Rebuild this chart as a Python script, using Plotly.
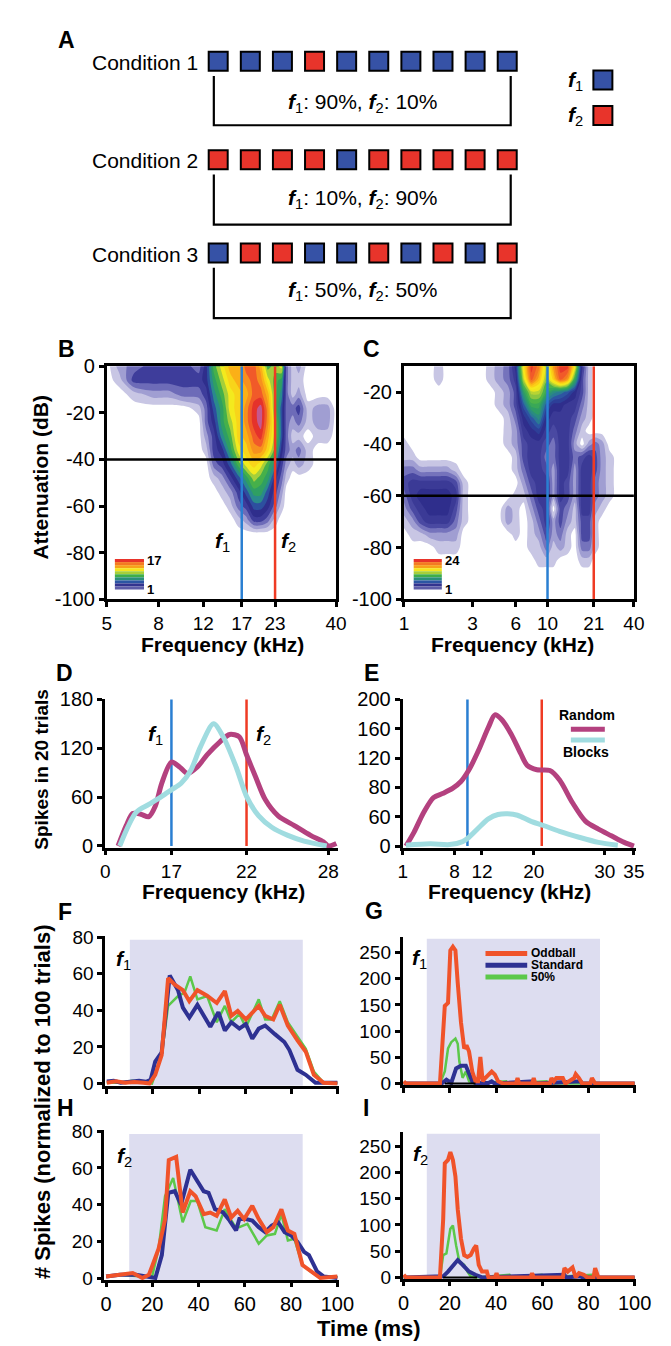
import math
import plotly.graph_objects as go

W, H = 671, 1346
FONT = "Liberation Sans, Arial, Helvetica, sans-serif"

# ======================= DATA =======================
# ---- Panel A: tone sequences ----
COND_NAMES = ["Condition 1", "Condition 2", "Condition 3"]
COND_SEQ = [
    ["f1", "f1", "f1", "f2", "f1", "f1", "f1", "f1", "f1", "f1"],
    ["f2", "f2", "f2", "f2", "f1", "f2", "f2", "f2", "f2", "f2"],
    ["f1", "f2", "f2", "f1", "f1", "f2", "f1", "f2", "f1", "f2"],
]
COND_PCT = [(90, 10), (10, 90), (50, 50)]

# ---- Panel B: frequency response area (spike count levels 0..17) ----
B_FREQ = [5, 5.6, 6.4, 7.6, 8.8, 10, 11.5, 12.3, 13.2, 14.2, 15.3, 16.5, 17.7,
          19, 20.2, 21.5, 23, 24.4, 25.5, 27, 28.5, 31, 34, 37, 40]
B_ATT = [0, -6, -12, -18, -24, -30, -36, -42, -48, -54, -60, -66, -72, -100]
B_Z = [
    [0, 2, 3, 4, 4, 4, 3, 5, 9, 11, 13, 13, 15, 15, 13, 9, 10, 11, 3, 1, 2, 0, 0, 0, 0],
    [0, 1, 4, 4, 4, 4, 4, 5, 8, 10, 12, 13, 14, 15, 14, 11, 9, 8, 3, 1, 1, 0, 0, 0, 0],
    [0, 0, 1, 2, 2, 3, 3, 4, 7, 9, 11, 12, 13, 15, 15, 13, 9, 7, 3, 1, 2, 0, 0, 0, 0],
    [0, 0, 0, 0, 0, 0, 1, 3, 6, 8, 11, 12, 14, 16, 17, 14, 9, 6, 3, 3, 4, 1, 2, 2, 0],
    [0, 0, 0, 0, 0, 0, 0, 3, 5, 8, 10, 12, 14, 16, 17, 14, 10, 6, 3, 2, 3, 1, 2, 2, 0],
    [0, 0, 0, 0, 0, 0, 0, 2, 4, 7, 9, 12, 13, 15, 16, 13, 10, 6, 3, 1, 1, 0, 1, 1, 0],
    [0, 0, 0, 0, 0, 0, 0, 1, 4, 5, 8, 11, 12, 14, 14, 12, 9, 5, 3, 2, 3, 1, 0, 0, 0],
    [0, 0, 0, 0, 0, 0, 0, 0, 3, 4, 6, 9, 11, 12, 11, 9, 7, 4, 2, 1, 2, 1, 0, 0, 0],
    [0, 0, 0, 0, 0, 0, 0, 0, 1, 2, 4, 6, 8, 10, 9, 8, 5, 3, 1, 0, 0, 0, 0, 0, 0],
    [0, 0, 0, 0, 0, 0, 0, 0, 0, 1, 2, 4, 6, 8, 8, 6, 4, 2, 0, 0, 0, 0, 0, 0, 0],
    [0, 0, 0, 0, 0, 0, 0, 0, 0, 0, 1, 3, 4, 6, 6, 5, 3, 1, 0, 0, 0, 0, 0, 0, 0],
    [0, 0, 0, 0, 0, 0, 0, 0, 0, 0, 0, 1, 2, 4, 4, 3, 1, 0, 0, 0, 0, 0, 0, 0, 0],
    [0] * 25,
    [0] * 25,
]
B_MAX = 17
B_F1, B_F2, B_LEVEL = 17, 23, -40
B_XTICKS = [5, 8, 12, 17, 23, 40]
B_YTICKS = [0, -20, -40, -60, -80, -100]

# ---- Panel C: frequency response area (levels 0..24) ----
C_FREQ = [1, 1.15, 1.3, 1.5, 1.75, 2, 2.3, 2.6, 3, 3.5, 4, 4.6, 5.3, 6, 6.8, 7.7,
          8.7, 9.8, 11, 12.3, 13.8, 15.5, 17.4, 19.5, 21.5, 24, 27, 31, 35, 40]
C_ATT = [-10, -15, -20, -25, -30, -35, -40, -45, -50, -55, -60, -65, -70, -75,
         -80, -85, -90, -100]
C_Z = [
    [0, 0, 0, 0, 1, 0, 0, 0, 0, 0, 1, 2, 3, 6, 17, 23, 21, 15, 20, 23, 23, 17, 5, 1, 0, 0, 0, 0, 0, 0],
    [0, 0, 0, 0, 1, 0, 0, 0, 0, 0, 1, 2, 3, 5, 15, 22, 19, 14, 18, 22, 20, 12, 4, 1, 0, 0, 0, 0, 0, 0],
    [0, 0, 0, 0, 0, 0, 0, 0, 0, 0, 0, 1, 2, 4, 11, 15, 15, 12, 10, 9, 8, 6, 4, 1, 0, 0, 0, 0, 0, 0],
    [0, 0, 0, 0, 0, 0, 0, 0, 0, 0, 0, 1, 2, 4, 8, 12, 12, 8, 6, 6, 5, 5, 3, 1, 0, 0, 0, 0, 0, 0],
    [0, 0, 0, 0, 0, 0, 0, 0, 0, 0, 0, 0, 1, 3, 6, 8, 10, 6, 5, 5, 5, 4, 2, 1, 0, 0, 0, 0, 0, 0],
    [0, 0, 0, 0, 0, 0, 0, 0, 0, 0, 0, 0, 1, 2, 5, 6, 7, 5, 4, 5, 5, 3, 1, 0, 0, 0, 0, 0, 0, 0],
    [1, 0, 0, 0, 0, 0, 0, 0, 0, 0, 0, 0, 1, 2, 4, 5, 5, 4, 3, 5, 5, 2, 0, 2, 3, 2, 0, 0, 0, 0],
    [1, 1, 0, 0, 0, 0, 0, 0, 0, 0, 0, 0, 0, 1, 4, 5, 5, 3, 3, 5, 5, 3, 4, 5, 4, 2, 1, 0, 0, 0],
    [3, 3, 2, 2, 2, 2, 1, 0, 0, 0, 0, 0, 0, 1, 3, 5, 5, 4, 2, 5, 5, 2, 5, 5, 4, 2, 1, 0, 0, 0],
    [4, 5, 5, 5, 5, 5, 4, 1, 0, 0, 0, 0, 0, 0, 2, 4, 5, 5, 2, 5, 4, 2, 5, 5, 3, 2, 1, 0, 0, 0],
    [3, 5, 6, 6, 6, 6, 5, 1, 0, 0, 0, 0, 0, 1, 1, 3, 5, 5, 2, 5, 4, 2, 5, 5, 3, 2, 1, 0, 0, 0],
    [2, 4, 5, 6, 6, 6, 4, 1, 0, 0, 0, 0, 2, 1, 0, 2, 4, 5, 0, 4, 3, 1, 5, 5, 2, 1, 0, 0, 0, 0],
    [1, 2, 4, 5, 5, 5, 3, 1, 0, 0, 0, 0, 2, 1, 0, 1, 3, 5, 2, 4, 2, 1, 4, 4, 1, 0, 0, 0, 0, 0],
    [0, 1, 1, 2, 2, 2, 2, 0, 0, 0, 0, 0, 0, 1, 0, 1, 2, 4, 2, 3, 1, 0, 4, 4, 1, 0, 0, 0, 0, 0],
    [0, 0, 0, 0, 1, 1, 1, 0, 0, 0, 0, 0, 0, 0, 0, 1, 1, 3, 1, 2, 1, 0, 3, 3, 1, 0, 0, 0, 0, 0],
    [0, 0, 0, 0, 0, 0, 0, 0, 0, 0, 0, 0, 0, 0, 0, 0, 1, 1, 1, 0, 0, 0, 1, 1, 0, 0, 0, 0, 0, 0],
    [0] * 30,
    [0] * 30,
]
C_MAX = 24
C_F1, C_F2, C_LEVEL = 10, 21, -60
C_XTICKS = [1, 3, 6, 10, 21, 40]
C_YTICKS = [-20, -40, -60, -80, -100]

# ---- Panel D: spikes vs frequency bin ----
D_RANDOM_X = [1.33, 2.17, 2.83, 3.67, 4.5, 5.17, 5.83, 6.83, 7.67, 8.5, 9.5, 10.5, 11.83,
              12.83, 13.83, 14.57, 15.5, 16.5, 17.83, 19.5, 21.17, 22.5, 23, 23.83]
D_RANDOM_Y = [0, 25, 40, 39, 36, 49, 77, 103, 97, 89, 97, 112, 128,
              137, 134, 112, 85, 57, 37, 25, 13, 5, 0, 3]
D_BLOCKS_X = [1.5, 3.17, 4.5, 5.83, 6.83, 7.83, 8.83, 9.83, 11.17, 12.17, 13.5, 14.57,
              15.83, 17.17, 18.83, 20.5, 22.83]
D_BLOCKS_Y = [0, 41, 51, 61, 69, 77, 93, 122, 150, 134, 97, 61, 37, 23, 13, 6, 0]
D_TICK_POS = [0, 6.83, 14.57, 23]
D_TICK_TXT = ["0", "17", "22", "28"]
D_F1_POS, D_F2_POS = 6.83, 14.57
D_YTICKS = [0, 60, 120, 180]

# ---- Panel E ----
E_RANDOM_X = [0.33, 1.17, 2.17, 3.17, 4.17, 5.17, 6, 6.83, 7.83, 8.83, 9.5, 10.17, 11.17,
              12.17, 12.83, 13.83, 15.17, 16.17, 17.5, 18.83, 20.17, 21.5, 22.83, 23.83]
E_RANDOM_Y = [0, 19, 46, 66, 72, 79, 88, 104, 131, 162, 179, 173, 153,
              126, 110, 104, 103, 90, 59, 34, 23, 14, 5, 0]
E_BLOCKS_X = [0.33, 2.83, 4.83, 6.17, 6.83, 7.83, 8.83, 9.83, 10.83, 11.83, 13.17, 14.5,
              16.17, 18.17, 20.17, 22.17]
E_BLOCKS_Y = [1, 3, 2, 6, 12, 25, 37, 43, 44, 42, 34, 28, 20, 12, 5, 1]
E_TICK_POS = [0, 5.33, 8.17, 13.5, 20.83, 23.83]
E_TICK_TXT = ["1", "8", "12", "20", "30", "35"]
E_F1_POS, E_F2_POS = 6.67, 14.33
E_YTICKS = [0, 40, 80, 120, 160, 200]
E_YTICK_TXT = ["0", "60", "80", "120", "160", "200"]

# ---- Panels F-I: PSTHs (time ms, spikes per 100 trials) ----
STIM = (10, 85)

F_STD_T = [0, 3, 6, 10, 14, 17, 19, 21, 23.8, 27.3, 30.9, 33, 35.8, 39.3, 42, 44.9, 48.4,
           51.2, 54, 57.5, 60.3, 63.1, 65.9, 68.7, 72.9, 77, 79.2, 82.7, 86.3, 90.5, 95, 100]
F_STD_V = [1.2, 1.5, 0.5, 1, 1.5, 1, 2, 12, 17, 59, 51, 41.5, 36, 43, 37, 31, 39,
           29, 33.5, 30, 32.5, 24.5, 30, 31.7, 27, 22.7, 18.3, 7.5, 4.8, 0.4, 0.4, 0.4]
F_ODD_T = [0, 4, 8, 12, 16, 18.5, 21, 23.8, 26.6, 29.5, 33, 35.8, 39.3, 43.5, 47.7, 51.2,
           54, 56.8, 60.3, 65.9, 68.7, 72.2, 75, 78.5, 82.7, 86.3, 89.8, 94, 100]
F_ODD_V = [0.4, 1.3, 0.4, 0.8, 0.5, 0, 4.8, 15.6, 57.6, 54, 51, 45, 51, 48, 44, 50.5,
           37, 39.7, 35, 42.4, 37, 35, 43, 31.7, 23.6, 17.4, 4.8, 0.4, 0]
F_50_T = [0, 6, 11, 16, 19.6, 23.8, 26.6, 30.9, 33.7, 36.2, 39.3, 43.5, 47.7, 51.2, 54,
          57.5, 60.3, 65.9, 68.7, 71.5, 75, 78.5, 82.7, 86.3, 89.8, 94, 100]
F_50_V = [0.4, 0.4, 1.5, 0.5, 0, 15.6, 42.4, 47.8, 49.6, 58.5, 46, 47.8, 33.5, 42.4, 33.5,
          38, 30.8, 46, 35, 35, 45, 33.5, 25.4, 19, 6.6, 0.4, 0.4]

H_STD_T = [0, 5.9, 12.9, 18.5, 21.3, 24.1, 26.9, 29.7, 32.4, 36.4, 38.7, 42.2, 44.3, 47.1,
           50.6, 53.4, 56.2, 57.6, 60.4, 63.2, 66, 68.8, 71.6, 74.4, 77.2, 80, 82.8, 85.6,
           87.7, 91.2, 94, 100]
H_STD_V = [0.9, 1.8, 1.8, 0.9, 0, 12.5, 46.4, 47.3, 40, 59, 54.5, 47.3, 46.4, 37.5,
           35.7, 31.3, 25.9, 32.1, 32.1, 31.3, 27.7, 25, 28.6, 30.4, 25, 23.2, 19.6, 14.3,
           12.5, 3.6, 0.9, 0]
H_ODD_T = [0, 5.9, 11.5, 15.7, 18.5, 20.1, 22.7, 25.5, 27.1, 30.3, 33.1, 36.4, 38.7, 42.2,
           45, 47.8, 51.3, 54.1, 56.9, 59.7, 63.2, 66, 69.5, 72.3, 75.8, 78.6, 81.4, 84.9,
           88.4, 92.6, 100]
H_ODD_V = [0.9, 1.8, 2.7, 0, 1.8, 7.1, 16, 32, 64.3, 66, 35.7, 47.3, 44.6, 34.8,
           35.7, 33.9, 42.9, 33, 36.6, 32.1, 39.3, 32.1, 25, 27.7, 37.5, 25.9, 24.1, 7.1,
           3.6, 0, 0.9]
H_50_T = [0, 5.9, 15.7, 19.9, 22.7, 25.5, 29, 33.1, 36.6, 39.4, 42.9, 47.8, 51.3, 55.5,
          57.6, 61.1, 66, 69.5, 73, 75.8, 78.6, 81.4, 84.9, 88.4, 92.6, 100]
H_50_V = [0.9, 1.8, 0.9, 0.9, 16, 44.6, 54.5, 30.4, 42, 42, 27.7, 25.9, 37.5, 28.6,
          27.7, 29.5, 18.75, 23.2, 24.1, 34.8, 20.5, 21.4, 7.1, 3.6, 0, 0.9]

G_ODD_T = [0, 1, 15.7, 17.8, 19.2, 20.2, 21.3, 22.4, 23.4, 24.8, 26.2, 27.2, 28.3, 29.7,
           31.1, 32.2, 33.2, 34.2, 35.3, 38.1, 39.5, 40.9, 43, 48.6, 49.3, 50, 55.6, 56.3,
           57, 63.3, 64, 65, 66.1, 67.5, 68.9, 70, 73.8, 74.5, 75.9, 77.3, 80.8, 81.5,
           82.9, 100]
G_ODD_V = [4.4, 0, 0, 148, 154, 254, 261, 254, 192, 117, 67, 73, 61, 23,
           4.4, 4.4, 51, 4.4, 10.6, 23, 17, 4.4, 0, 0, 10.6, 0, 0, 10.6,
           0, 0, 10.6, 4.4, 10.6, 10.6, 10.6, 0, 10.6, 18, 10.6, 0, 0, 10.6,
           0, 0]
G_STD_T = [0, 16.4, 18.5, 20.6, 22.7, 24.8, 26.9, 28.3, 29.7, 31.1, 36.7, 38.1, 39.5,
           56.3, 57, 76.6, 77.3, 100]
G_STD_V = [0, 0, 7.5, 1.2, 29, 34, 34, 20, 4.4, 1.2, 1.2, 4.4, 0, 4.4, 0, 4.4, 0, 0]
G_50_T = [0, 15.7, 17.8, 19.2, 20.6, 22.4, 23.4, 24.1, 25.5, 26.9, 28.3, 31.1, 44.4, 45,
          61.9, 62.6, 100]
G_50_V = [0, 0, 23, 67, 79, 86, 76, 42, 11, 23, 4.4, 0, 4.4, 0, 4.4, 0, 0]

I_ODD_T = [0, 1, 15.7, 17.1, 17.8, 19.2, 20.2, 21.3, 22.4, 23.4, 24.8, 26.2, 27.6, 29,
           30.4, 31.4, 32.5, 33.9, 36, 36.7, 39.5, 40.2, 40.9, 54.9, 55.6, 56.3, 68.9,
           69.6, 71, 73.1, 74.5, 75.9, 78, 79.4, 82.2, 82.9, 84.3, 100]
I_ODD_V = [5, 0, 0, 111, 217.5, 224, 239, 224, 192.5, 130, 74, 42.5, 39, 42.5,
           55, 61, 24, 11, 11, 0, 0, 8, 0, 0, 8, 0, 0,
           17.5, 11, 19, 0, 8, 5, 0, 0, 17.5, 0, 0]
I_STD_T = [0, 17.1, 19.2, 21.3, 23.4, 24.8, 26.2, 28.3, 31.1, 33.9, 69.6, 70.3, 76.6,
           77.3, 100]
I_STD_V = [0, 2, 11, 21, 33, 27, 21, 11, 5, 0, 5, 0, 2, 0, 0]
I_50_T = [0, 15.7, 17.1, 18.5, 20.2, 21.3, 22.7, 24.1, 26.2, 27.6, 29, 31.1, 45.8, 46.5,
          59.8, 60.5, 81.5, 82.2, 100]
I_50_V = [0, 0, 42.5, 45.6, 92.5, 98.8, 61, 30, 24, 11, 2, 0, 5, 0, 5, 0, 5, 0, 0]

G_BAR = (17.8, 31.1)
I_BAR = (17.1, 31.8)

# ======================= STYLE =======================
TONE_COLOR = {"f1": "#3652a6", "f2": "#e8342b"}
F1_LINE = "#2a7fd2"
F2_LINE = "#ef3b24"
MAGENTA = "#b4417f"
CYAN = "#a0dce0"
ODD_C = "#f0532a"
STD_C = "#2e3192"
P50_C = "#5cc84a"
SHADE = "rgb(221,221,240)"

B_COLS = ['#ffffff', '#c8c6e4', '#a09ed2', '#6d6bb8', '#3e3d9b', '#2f2e8c', '#2d4f9f',
          '#2a8a8c', '#2f9f62', '#46b04a', '#a6cf3a', '#f3ea1e', '#f8d41a', '#fbb017',
          '#f7901e', '#f15a29', '#e5322b', '#c4588f']
C_COLS = ['#ffffff', '#c8c6e4', '#a09ed2', '#7573bc', '#4a49a2', '#3b3a96', '#2f2e8c',
          '#2d3f98', '#2d55a2', '#2a7a94', '#2a8c80', '#2e9c66', '#3aa857', '#4cb34a',
          '#8cc63f', '#b8d433', '#eee61f', '#f6e81c', '#fbcf17', '#fbb817', '#f7941d',
          '#f47a22', '#f15a29', '#e83a2a', '#e0302c']
CBAR_COLS = ['#e8332a', '#f47a22', '#f7a21b', '#f5e61e', '#a6cf3a', '#3fae49',
             '#2a8f7a', '#2b55a3', '#33338f', '#5d5ca8']


def xdom(a, b):
    return [a / W, b / W]


def ydom(top, bot):
    return [1 - bot / H, 1 - top / H]


def PX(x):
    return x / W


def PY(y):
    return 1 - y / H


def axis(domain, anchor, size=20, **kw):
    d = dict(domain=domain, anchor=anchor, showgrid=False, zeroline=False,
             showline=True, linecolor="black", linewidth=2.5, ticks="outside",
             tickcolor="black", tickwidth=2.5, ticklen=5,
             tickfont=dict(family=FONT, size=size, color="black"), fixedrange=True)
    d.update(kw)
    return d


fig = go.Figure()
annotations = []
shapes = []


def ann(x, y, text, size=20, bold=False, angle=0, xanchor="center", **kw):
    t = f"<b>{text}</b>" if bold else text
    annotations.append(dict(x=PX(x), y=PY(y), xref="paper", yref="paper", text=t,
                            showarrow=False, textangle=angle, xanchor=xanchor,
                            yanchor="middle",
                            font=dict(family=FONT, size=size, color="black"), **kw))


def fsub(k):
    return f"<b><i>f</i></b><sub>{k}</sub>"


# ======================= PANEL A =======================
SQ_X0, SQ_DX = 211.5, 33.1
ROW_Y = [43, 143, 238]
BR_TOP = [58, 158, 253]
BR_BOT = [108, 209, 304]
TXT_Y = [85, 183, 277]
BR_X = (207, 513)

for r, seq in enumerate(COND_SEQ):
    xs = [SQ_X0 + i * SQ_DX for i in range(len(seq))]
    fig.add_trace(go.Scatter(
        x=xs, y=[ROW_Y[r]] * len(seq), mode="markers", xaxis="x", yaxis="y",
        marker=dict(symbol="square", size=19, color=[TONE_COLOR[t] for t in seq],
                    line=dict(color="black", width=2)),
        hoverinfo="skip", showlegend=False))
    fig.add_trace(go.Scatter(
        x=[BR_X[0], BR_X[0], BR_X[1], BR_X[1]],
        y=[BR_TOP[r], BR_BOT[r], BR_BOT[r], BR_TOP[r]],
        mode="lines", line=dict(color="black", width=2.2), xaxis="x", yaxis="y",
        hoverinfo="skip", showlegend=False))
    ann(193, ROW_Y[r] + 1, COND_NAMES[r], size=21, xanchor="right")
    p1, p2 = COND_PCT[r]
    ann(360, TXT_Y[r], f"{fsub(1)}: {p1}%, {fsub(2)}: {p2}%", size=21)

fig.add_trace(go.Scatter(
    x=[608, 608], y=[62, 98], mode="markers", xaxis="x", yaxis="y",
    marker=dict(symbol="square", size=19, color=[TONE_COLOR["f1"], TONE_COLOR["f2"]],
                line=dict(color="black", width=2)),
    hoverinfo="skip", showlegend=False))
ann(590, 63, fsub(1), size=21, xanchor="right")
ann(590, 99, fsub(2), size=21, xanchor="right")


# ======================= PANELS B, C =======================
def cscale(cols):
    n = len(cols) - 1
    return [[k / n, c] for k, c in enumerate(cols)]


fig.add_trace(go.Contour(
    x=B_FREQ, y=B_ATT, z=B_Z, xaxis="x2", yaxis="y2", colorscale=cscale(B_COLS),
    autocontour=False,
    contours=dict(start=0.5, end=B_MAX - 0.5, size=1, coloring="fill", showlines=False),
    line=dict(width=0, smoothing=0.8), showscale=False, hoverinfo="skip"))
fig.add_trace(go.Contour(
    x=C_FREQ, y=C_ATT, z=C_Z, xaxis="x3", yaxis="y3", colorscale=cscale(C_COLS),
    autocontour=False,
    contours=dict(start=0.5, end=C_MAX - 0.5, size=1, coloring="fill", showlines=False),
    line=dict(width=0, smoothing=0.8), showscale=False, hoverinfo="skip"))

for xa, ya, f1, f2, lev, ylo, yhi, xlo, xhi in [
        ("x2", "y2", B_F1, B_F2, B_LEVEL, -100, 0, 5, 40),
        ("x3", "y3", C_F1, C_F2, C_LEVEL, -100, -10, 1, 40)]:
    fig.add_trace(go.Scatter(x=[xlo, xhi], y=[lev, lev], mode="lines", xaxis=xa, yaxis=ya,
                             line=dict(color="black", width=2.5), hoverinfo="skip",
                             showlegend=False))
    fig.add_trace(go.Scatter(x=[f1, f1], y=[ylo, yhi], mode="lines", xaxis=xa, yaxis=ya,
                             line=dict(color=F1_LINE, width=2.5), hoverinfo="skip",
                             showlegend=False))
    fig.add_trace(go.Scatter(x=[f2, f2], y=[ylo, yhi], mode="lines", xaxis=xa, yaxis=ya,
                             line=dict(color=F2_LINE, width=2.5), hoverinfo="skip",
                             showlegend=False))

# colour-key insets
for (x0, x1, y0, y1, top_lbl) in [(105, 135, 549, 580, str(B_MAX)),
                                  (413, 442, 549, 580, str(C_MAX))]:
    n = len(CBAR_COLS)
    hstep = (y1 - y0) / n
    for i, c in enumerate(CBAR_COLS):
        shapes.append(dict(type="rect", xref="paper", yref="paper",
                           x0=PX(x0), x1=PX(x1), y0=PY(y0 + (i + 1) * hstep),
                           y1=PY(y0 + i * hstep), fillcolor=c, line=dict(width=0),
                           layer="above"))
    ann(x1 + 2, y0 + 1, top_lbl, size=13, bold=True, xanchor="left", borderpad=0)
    ann(x1 + 2, y1, "1", size=13, bold=True, xanchor="left", borderpad=0)

ann(216, 532, fsub(1), size=21)
ann(284, 532, fsub(2), size=21)

# ======================= PANELS D, E =======================
for xa, ya, f1, f2, ytop in [("x4", "y4", D_F1_POS, D_F2_POS, 180),
                             ("x5", "y5", E_F1_POS, E_F2_POS, 200)]:
    fig.add_trace(go.Scatter(x=[f1, f1], y=[0, ytop], mode="lines", xaxis=xa, yaxis=ya,
                             line=dict(color=F1_LINE, width=2.5), hoverinfo="skip",
                             showlegend=False))
    fig.add_trace(go.Scatter(x=[f2, f2], y=[0, ytop], mode="lines", xaxis=xa, yaxis=ya,
                             line=dict(color=F2_LINE, width=2.5), hoverinfo="skip",
                             showlegend=False))

for xa, ya, xs, ys, col in [
        ("x4", "y4", D_RANDOM_X, D_RANDOM_Y, MAGENTA),
        ("x4", "y4", D_BLOCKS_X, D_BLOCKS_Y, CYAN),
        ("x5", "y5", E_RANDOM_X, E_RANDOM_Y, MAGENTA),
        ("x5", "y5", E_BLOCKS_X, E_BLOCKS_Y, CYAN)]:
    fig.add_trace(go.Scatter(x=xs, y=ys, mode="lines", xaxis=xa, yaxis=ya,
                             line=dict(color=col, width=5, shape="spline", smoothing=0.8),
                             hoverinfo="skip", showlegend=False))

ann(147, 728, fsub(1), size=21)
ann(258, 728, fsub(2), size=21)

# E legend
ann(592, 708, "Random", size=14, bold=True, borderpad=0)
ann(591, 745, "Blocks", size=14, bold=True, borderpad=0)
shapes.append(dict(type="line", xref="paper", yref="paper", x0=PX(575), x1=PX(610),
                   y0=PY(722), y1=PY(722), line=dict(color=MAGENTA, width=5)))
shapes.append(dict(type="line", xref="paper", yref="paper", x0=PX(575), x1=PX(610),
                   y0=PY(733), y1=PY(733), line=dict(color=CYAN, width=5)))

# ======================= PANELS F-I =======================
psth = [
    ("x6", "y6", (F_50_T, F_50_V), (F_STD_T, F_STD_V), (F_ODD_T, F_ODD_V), 78.5, None),
    ("x7", "y7", (G_50_T, G_50_V), (G_STD_T, G_STD_V), (G_ODD_T, G_ODD_V), 276, G_BAR),
    ("x8", "y8", (H_50_T, H_50_V), (H_STD_T, H_STD_V), (H_ODD_T, H_ODD_V), 78.5, None),
    ("x9", "y9", (I_50_T, I_50_V), (I_STD_T, I_STD_V), (I_ODD_T, I_ODD_V), 274, I_BAR),
]
YMIN = {"y6": -1.2, "y7": -3, "y8": -1.2, "y9": -3}
for xa, ya, g, b, o, stop, bar in psth:
    shapes.append(dict(type="rect", xref=xa, yref=ya, x0=STIM[0], x1=STIM[1],
                       y0=YMIN[ya], y1=stop, fillcolor=SHADE, line=dict(width=0),
                       layer="below"))
    fig.add_trace(go.Scatter(x=g[0], y=g[1], mode="lines", xaxis=xa, yaxis=ya,
                             line=dict(color=P50_C, width=2.5), hoverinfo="skip",
                             showlegend=False))
    fig.add_trace(go.Scatter(x=b[0], y=b[1], mode="lines", xaxis=xa, yaxis=ya,
                             line=dict(color=STD_C, width=4), hoverinfo="skip",
                             showlegend=False))
    fig.add_trace(go.Scatter(x=o[0], y=o[1], mode="lines", xaxis=xa, yaxis=ya,
                             line=dict(color=ODD_C, width=4), hoverinfo="skip",
                             showlegend=False))
    if bar:
        fig.add_trace(go.Scatter(x=list(bar), y=[0, 0], mode="lines", xaxis=xa, yaxis=ya,
                                 line=dict(color="black", width=2), hoverinfo="skip",
                                 showlegend=False))

# G legend
for yy, col, lbl in [(950, ODD_C, "Oddball"), (962, STD_C, "Standard"), (974, P50_C, "50%")]:
    shapes.append(dict(type="line", xref="paper", yref="paper", x0=PX(487), x1=PX(530),
                       y0=PY(yy), y1=PY(yy), line=dict(color=col, width=5)))
    ann(533, yy, lbl, size=12, bold=True, xanchor="left", borderpad=0)

ann(114, 957, fsub(1), size=21)
ann(419, 956, fsub(1), size=21)
ann(115, 1157, fsub(2), size=21)
ann(420, 1155, fsub(2), size=21)

# ======================= TEXT =======================
for x, y, t in [(55, 21, "A"), (55, 335, "B"), (370, 335, "C"), (53, 665, "D"),
                (370, 665, "E"), (54, 908, "F"), (372, 907, "G"), (54, 1107, "H"),
                (364, 1107, "I")]:
    ann(x, y, t, size=23, bold=True)

ann(216, 636, "Frequency (kHz)", size=21, bold=True, borderpad=0)
ann(515, 636, "Frequency (kHz)", size=21, bold=True, borderpad=0)
ann(217, 887, "Frequency (kHz)", size=21, bold=True, borderpad=0)
ann(512, 887, "Frequency (kHz)", size=21, bold=True, borderpad=0)
ann(28, 466, "Attenuation (dB)", size=21, bold=True, angle=-90)
ann(29, 763, "Spikes in 20 trials", size=19, bold=True, angle=-90)
ann(30, 1101, "# Spikes (normalized to 100 trials)", size=22, bold=True, angle=-90)
ann(367, 1331, "Time (ms)", size=22, bold=True, borderpad=0)

# ======================= AXES =======================
lay = dict(
    width=W, height=H, margin=dict(l=0, r=0, t=0, b=0),
    paper_bgcolor="white", plot_bgcolor="white", showlegend=False,
    annotations=annotations, shapes=shapes,
    xaxis=dict(domain=[0, 1], range=[0, W], visible=False, anchor="y", fixedrange=True),
    yaxis=dict(domain=ydom(0, 330), range=[330, 0], visible=False, anchor="x",
               fixedrange=True),
    # B
    xaxis2=axis(xdom(96.7, 333), "y2", type="log", size=19,
                range=[math.log10(5), math.log10(40)], tickvals=B_XTICKS,
                ticktext=[str(v) for v in B_XTICKS], mirror=True, linewidth=3),
    yaxis2=axis(ydom(353, 590), "x2", range=[-100, 0], tickvals=B_YTICKS,
                ticktext=[str(v) for v in B_YTICKS], mirror=True, linewidth=3),
    # C
    xaxis3=axis(xdom(403, 640), "y3", type="log", range=[0, math.log10(40)], size=19,
                tickvals=C_XTICKS, ticktext=[str(v) for v in C_XTICKS], mirror=True,
                linewidth=3),
    yaxis3=axis(ydom(353, 590), "x3", range=[-100, -10], tickvals=C_YTICKS,
                ticktext=[str(v) for v in C_YTICKS], mirror=True, linewidth=3),
    # D
    xaxis4=axis(xdom(95, 335), "y4", range=[0, 24], tickvals=D_TICK_POS, size=19,
                ticktext=D_TICK_TXT, linewidth=3, ticklen=4),
    yaxis4=axis(ydom(690.9, 842.8), "x4", range=[-2.5, 181], tickvals=D_YTICKS,
                ticktext=[str(v) for v in D_YTICKS], linewidth=3),
    # E
    xaxis5=axis(xdom(401.7, 641.7), "y5", range=[0, 24], tickvals=E_TICK_POS, size=19,
                ticktext=E_TICK_TXT, linewidth=3, ticklen=4),
    yaxis5=axis(ydom(691, 843), "x5", range=[-3, 201], tickvals=E_YTICKS,
                ticktext=E_YTICK_TXT, linewidth=3),
    # F
    xaxis6=axis(xdom(95, 336), "y6", range=[-0.7, 100.7], tickvals=[0, 20, 40, 60, 80, 100],
                showticklabels=False, size=19),
    yaxis6=axis(ydom(931.8, 1084.5), "x6", range=[-1.2, 80.8],
                tickvals=[0, 20, 40, 60, 80], size=19),
    # G
    xaxis7=axis(xdom(401.5, 642.4), "y7", range=[-0.5, 100.7],
                tickvals=[0, 20, 40, 60, 80, 100], showticklabels=False, size=19),
    yaxis7=axis(ydom(933.5, 1083.9), "x7", range=[-3, 279],
                tickvals=[0, 50, 100, 150, 200, 250], size=19),
    # H
    xaxis8=axis(xdom(94.3, 336), "y8", range=[-0.7, 100.7], tickvals=[0, 20, 40, 60, 80, 100],
                size=20, ticklen=4),
    yaxis8=axis(ydom(1129.2, 1282.2), "x8", range=[-1.2, 80.8],
                tickvals=[0, 20, 40, 60, 80], size=19),
    # I
    xaxis9=axis(xdom(401.5, 642.4), "y9", range=[-0.5, 100.7],
                tickvals=[0, 20, 40, 60, 80, 100], size=20, ticklen=4),
    yaxis9=axis(ydom(1131.6, 1280.9), "x9", range=[-3, 277],
                tickvals=[0, 50, 100, 150, 200, 250], size=19),
)
fig.update_layout(**lay)
fig.write_html("out.html")
